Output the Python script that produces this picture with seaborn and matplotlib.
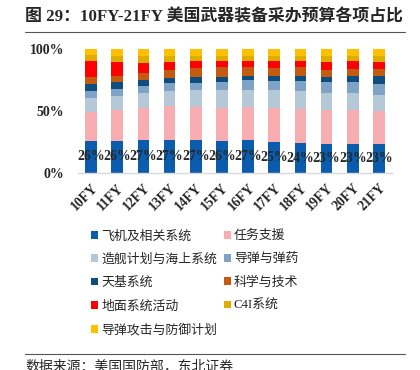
import numpy as np
import pandas as pd
import matplotlib
matplotlib.use("Agg")
import matplotlib.pyplot as plt
from matplotlib.patches import Patch
from matplotlib.lines import Line2D
import seaborn as sns

years = ["10FY", "11FY", "12FY", "13FY", "14FY", "15FY",
         "16FY", "17FY", "18FY", "19FY", "20FY", "21FY"]

series_names = ["飞机及相关系统", "任务支援", "造舰计划与海上系统", "导弹与弹药",
                "天基系统", "科学与技术", "地面系统活动", "C4I系统",
                "导弹攻击与防御计划"]

# share of each item, %
aircraft   = [26, 26, 27, 27, 27, 26, 27, 25, 24, 23, 23, 23]
mission    = [23.5, 24.8, 25.7, 27.1, 26.2, 26.7, 26.0, 27.2, 27.4, 27.5, 28.1, 27.0]
shipbuild  = [10.8, 11.4, 11.6, 12.1, 13.8, 14.3, 14.0, 14.8, 14.5, 13.8, 13.8, 13.0]
missiles   = [5.9, 5.9, 5.7, 6.0, 5.4, 6.0, 7.9, 7.3, 7.9, 8.9, 8.6, 8.6]
space      = [5.4, 4.9, 5.1, 4.6, 5.4, 4.8, 3.5, 4.1, 4.8, 4.1, 4.6, 6.5]
scitech    = [5.7, 5.1, 5.4, 6.4, 6.8, 7.3, 6.7, 6.2, 6.5, 5.9, 5.7, 5.7]
ground     = [12.7, 11.1, 8.1, 6.5, 5.4, 4.9, 4.9, 5.9, 5.4, 6.5, 6.2, 5.7]
c4i        = [5.4, 5.4, 5.5, 4.6, 4.0, 4.0, 4.0, 4.1, 4.1, 4.4, 4.1, 4.6]
missile_def = [4.6, 5.4, 5.9, 5.7, 6.0, 6.0, 6.0, 5.4, 5.4, 5.9, 5.9, 5.9]

colors = ["#0B5CAD", "#F8ADB0", "#B4C8D7", "#7EA3C6", "#0D4E7E",
          "#C55A11", "#FF0000", "#DFAC00", "#FFC000"]

df = pd.DataFrame([aircraft, mission, shipbuild, missiles, space, scitech,
                   ground, c4i, missile_def], index=series_names, columns=years).T
df = df.div(df.sum(axis=1), axis=0) * 100
cum = df.cumsum(axis=1)

sns.set_style("white")
plt.rcParams["font.family"] = ["Liberation Serif", "Noto Sans CJK SC"]

fig = plt.figure(figsize=(4.2, 3.7), dpi=100)
ax = fig.add_axes([78 / 420, 1 - 173 / 370, 314 / 420, 124 / 370])

# draw cumulative layers from top down so each shows its own segment
for name, c in reversed(list(zip(series_names, colors))):
    sns.barplot(x=years, y=cum[name].values, color=c, width=0.45,
                saturation=1, ax=ax, edgecolor="none")

for i, v in enumerate(aircraft):
    ax.text(i, df[series_names[0]].iloc[i] / 2, f"{v}%", ha="center", va="center",
            fontsize=10, fontweight="bold", family="Liberation Serif")

ax.set_xlim(-0.5, 11.5)
ax.set_ylim(0, 100)
ax.set_yticks([0, 50, 100])
ax.set_yticklabels(["0%", "50%", "100%"], fontsize=10, fontweight="bold",
                   family="Liberation Serif")
ax.set_xticks(range(len(years)))
ax.set_xticklabels(years, rotation=45, ha="right", rotation_mode="anchor",
                   fontsize=9.8, fontweight="bold", family="Liberation Serif")
ax.tick_params(axis="y", length=0, pad=10)
ax.tick_params(axis="x", length=0, pad=6)
ax.set_xlabel("")
ax.set_ylabel("")
for s in ["top", "right", "left"]:
    ax.spines[s].set_visible(False)
ax.spines["bottom"].set_color("#D9D9D9")
ax.spines["bottom"].set_linewidth(1)

# legend, row-major in two columns
handles = [Patch(facecolor=c, edgecolor="none") for c in colors]
order = [0, 2, 4, 6, 8, 1, 3, 5, 7]
fig.legend([handles[i] for i in order], [series_names[i] for i in order],
           loc="upper left", bbox_to_anchor=(91 / 420, 1 - 230 / 370), ncol=2,
           frameon=False, handlelength=0.55, handleheight=0.55,
           handletextpad=0.25, columnspacing=0.5, labelspacing=0.86,
           borderpad=0, borderaxespad=0,
           prop={"family": ["Liberation Serif", "Noto Sans CJK SC"], "size": 9.3})

# title and source
fig.text(25 / 420, 1 - 17 / 370, "图 29：10FY-21FY 美国武器装备采办预算各项占比",
         fontsize=12.2, fontweight="bold", va="center", ha="left")
fig.add_artist(Line2D([25 / 420, 405 / 420], [1 - 32 / 370] * 2,
                      color="#555555", lw=0.8))
fig.add_artist(Line2D([25 / 420, 405 / 420], [1 - 354 / 370] * 2,
                      color="#555555", lw=0.8))
fig.text(25 / 420, 1 - 366 / 370, "数据来源：美国国防部，东北证券",
         fontsize=10, va="center", ha="left", style="italic")

fig.savefig("out.png", dpi=100)
